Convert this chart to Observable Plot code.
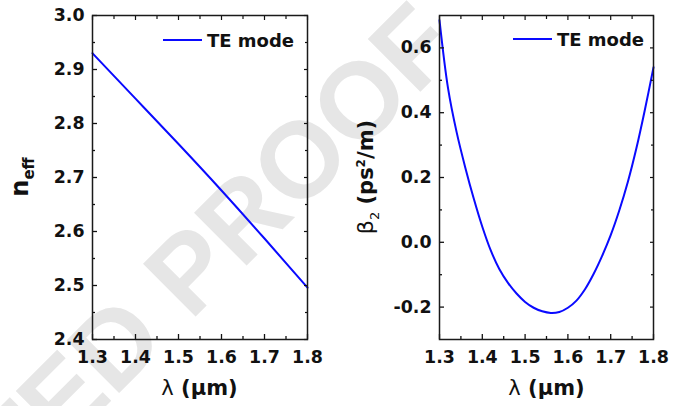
<!DOCTYPE html>
<html>
<head>
<meta charset="utf-8">
<script src="https://cdn.jsdelivr.net/npm/d3@7"></script>
<script src="https://cdn.jsdelivr.net/npm/@observablehq/plot@0.6"></script>
<style>
  html, body { margin: 0; padding: 0; background: #fff; }
  #wrap { position: relative; width: 681px; height: 406px; overflow: hidden; background: #fff; }
  #wm { position: absolute; left: 0; top: 0; z-index: 0; }
  .panel { position: absolute; top: 0; z-index: 1; }
</style>
</head>
<body>
<div id="wrap">
  <svg id="wm" width="681" height="406"></svg>
  <div id="left" class="panel" style="left:0px"></div>
  <div id="right" class="panel" style="left:340px"></div>
</div>
<script>
// ---- data ----
const lambdaN = [1.30, 1.40, 1.50, 1.60, 1.70, 1.80];
const neff    = [2.930, 2.846, 2.762, 2.676, 2.587, 2.496];

const lambdaB = [1.30, 1.32, 1.34, 1.36, 1.38, 1.40, 1.42, 1.44, 1.46, 1.48, 1.50, 1.52, 1.54,
                 1.56, 1.58, 1.60, 1.62, 1.64, 1.66, 1.68, 1.70, 1.72, 1.74, 1.76, 1.78, 1.80];
const beta2   = [0.685, 0.475, 0.340, 0.232, 0.135, 0.048, -0.026, -0.083, -0.125, -0.158, -0.184, -0.202, -0.213,
                 -0.218, -0.215, -0.202, -0.180, -0.145, -0.098, -0.042, 0.022, 0.098, 0.186, 0.290, 0.410, 0.540];

const xTicks     = [1.3, 1.4, 1.5, 1.6, 1.7, 1.8];
const xMinor     = [1.35, 1.45, 1.55, 1.65, 1.75];
const neffTicks  = [2.4, 2.5, 2.6, 2.7, 2.8, 2.9, 3.0];
const neffMinor  = [2.45, 2.55, 2.65, 2.75, 2.85, 2.95];
const betaTicks  = [-0.2, 0.0, 0.2, 0.4, 0.6];
const betaMinor  = [-0.1, 0.1, 0.3, 0.5];
const legendText = "TE mode";
const watermark  = "UNCORRECTED PROOF";

const blue = "#0a0aff";
const fmt = d => d.toFixed(1);
const font = "'DejaVu Sans', Verdana, sans-serif";
const wmFont = "'Liberation Sans', Arial, Helvetica, sans-serif";

function panel({xs, ys, yDomain, yTicks, yMinor, marginLeft, marginRight, curve}) {
  const data = xs.map((x, i) => ({x, y: ys[i]}));
  const tk = {tickFormat: () => "", label: null};
  return Plot.plot({
    width: 340, height: 406,
    marginLeft, marginRight, marginTop: 15, marginBottom: 67,
    x: {domain: [1.3, 1.8]},
    y: {domain: yDomain},
    style: {background: "transparent", fontFamily: font, color: "#111", overflow: "visible"},
    marks: [
      Plot.line(data, {x: "x", y: "y", stroke: blue, strokeWidth: 2, curve}),
      // tick labels
      Plot.axisX({ticks: xTicks, tickSize: 0, tickPadding: 11, tickFormat: fmt, label: null,
                  fontSize: 17.4, fontWeight: "bold", fontFamily: font}),
      Plot.axisY({ticks: yTicks, tickSize: 0, tickPadding: 8, tickFormat: fmt, label: null,
                  fontSize: 17.4, fontWeight: "bold", fontFamily: font}),
      // inward major / minor ticks on all four sides
      Plot.axisX({anchor: "bottom", ticks: xTicks, tickSize: -5, strokeWidth: 1.3, ...tk}),
      Plot.axisX({anchor: "bottom", ticks: xMinor, tickSize: -3, strokeWidth: 1.3, ...tk}),
      Plot.axisX({anchor: "top", ticks: xTicks, tickSize: -4, strokeWidth: 1.2, ...tk}),
      Plot.axisX({anchor: "top", ticks: xMinor, tickSize: -3, strokeWidth: 1.2, ...tk}),
      Plot.axisY({anchor: "left", ticks: yTicks, tickSize: -5, strokeWidth: 1.3, ...tk}),
      Plot.axisY({anchor: "left", ticks: yMinor, tickSize: -3, strokeWidth: 1.3, ...tk}),
      Plot.axisY({anchor: "right", ticks: yTicks, tickSize: -4, strokeWidth: 1.2, ...tk}),
      Plot.axisY({anchor: "right", ticks: yMinor, tickSize: -3, strokeWidth: 1.2, ...tk}),
      Plot.frame({stroke: "#1a1a1a", strokeWidth: 1.5})
    ]
  });
}

const left = panel({xs: lambdaN, ys: neff, yDomain: [2.4, 3.0], yTicks: neffTicks, yMinor: neffMinor,
                    marginLeft: 92, marginRight: 33, curve: "natural"});
const right = panel({xs: lambdaB, ys: beta2, yDomain: [-0.3, 0.7], yTicks: betaTicks, yMinor: betaMinor,
                     marginLeft: 99, marginRight: 27, curve: "catmull-rom"});
document.getElementById("left").appendChild(left);
document.getElementById("right").appendChild(right);

function addLabels(svg, {xCenter, yLabelX, yLabelParts, legendX, legendY}) {
  const s = d3.select(svg);
  // x label
  const xl = s.append("text").attr("x", xCenter).attr("y", 395).attr("text-anchor", "middle")
    .style("font-family", font).style("font-size", "21px").attr("fill", "#111");
  xl.append("tspan").style("font-weight", "normal").text("λ");
  xl.append("tspan").style("font-weight", "bold").text(" (μm)");
  // y label
  const yl = s.append("text").attr("transform", `translate(${yLabelX},177) rotate(-90)`).attr("text-anchor", "middle")
    .style("font-family", font).attr("fill", "#111");
  for (const p of yLabelParts) {
    const t = yl.append("tspan").text(p.t).style("font-size", p.size + "px").style("font-weight", p.w || "bold");
    if (p.dy) t.attr("dy", p.dy);
  }
  // legend
  s.append("line").attr("x1", legendX).attr("x2", legendX + 39).attr("y1", legendY).attr("y2", legendY)
    .attr("stroke", blue).attr("stroke-width", 2);
  s.append("text").attr("x", legendX + 44).attr("y", legendY + 6.5).attr("text-anchor", "start")
    .style("font-family", font).style("font-size", "18px").style("font-weight", "bold").attr("fill", "#111")
    .text(legendText);
}

addLabels(left, {xCenter: 199.5, yLabelX: 28, legendX: 163, legendY: 40,
  yLabelParts: [{t: "n", size: 24}, {t: "eff", size: 15, dy: 6}]});
addLabels(right, {xCenter: 206.5, yLabelX: 33, legendX: 173, legendY: 39,
  yLabelParts: [{t: "β", size: 22, w: "normal"}, {t: "2", size: 13, w: "normal", dy: 6},
                {t: " (ps", size: 21, dy: -6}, {t: "2", size: 12, dy: -8}, {t: "/m)", size: 21, dy: 8}]});

// watermark (partially visible, as in the reference)
d3.select("#wm").append("text")
  .attr("transform", "translate(462,50) rotate(-45)")
  .attr("text-anchor", "end")
  .style("font-family", wmFont).style("font-size", "108px").style("font-weight", "bold")
  .attr("fill", "#e6e6e6")
  .text(watermark);
</script>
</body>
</html>
